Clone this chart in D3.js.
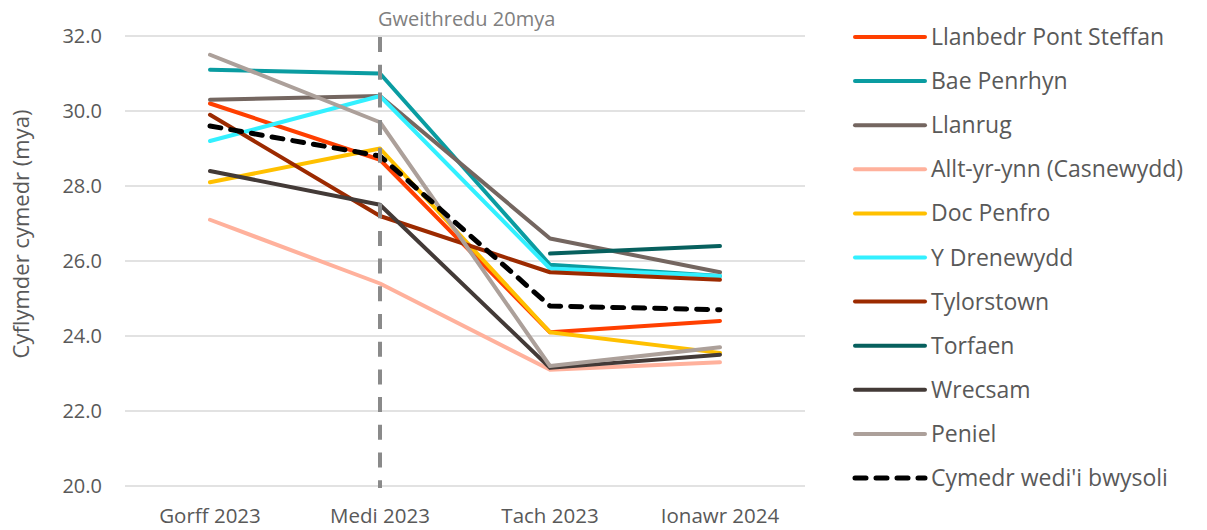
<!DOCTYPE html>
<html>
<head>
<meta charset="utf-8">
<script src="https://cdn.jsdelivr.net/npm/d3@7"></script>
<style>
	body { margin: 0; background: #fff; }
	text { font-family: "Open Sans", "Liberation Sans", sans-serif; fill: #595959; }
</style>
</head>
<body>
<div id="chart"></div>
<script>
var months = ["Gorff 2023", "Medi 2023", "Tach 2023", "Ionawr 2024"]
var yTicks = [20, 22, 24, 26, 28, 30, 32]

var names = ["Llanbedr Pont Steffan", "Bae Penrhyn", "Llanrug", "Allt-yr-ynn (Casnewydd)", "Doc Penfro",
	"Y Drenewydd", "Tylorstown", "Torfaen", "Wrecsam", "Peniel", "Cymedr wedi'i bwysoli"]

var llanbedr = [30.2, 28.7, 24.1, 24.4]
var baePenrhyn = [31.1, 31.0, 25.9, 25.6]
var llanrug = [30.3, 30.4, 26.6, 25.7]
var alltYrYnn = [27.1, 25.4, 23.1, 23.3]
var docPenfro = [28.1, 29.0, 24.1, 23.55]
var yDrenewydd = [29.2, 30.4, 25.8, 25.6]
var tylorstown = [29.9, 27.2, 25.7, 25.5]
var torfaen = [null, null, 26.2, 26.4]
var wrecsam = [28.4, 27.5, 23.15, 23.5]
var peniel = [31.5, 29.7, 23.2, 23.7]
var cymedr = [29.6, 28.8, 24.8, 24.7]

var colors = ["#ff3f00", "#0a9ca1", "#746660", "#ffb19c", "#ffc000",
	"#33f0ff", "#9c2a00", "#07605e", "#433a37", "#aca09a", "#000000"]

var series = [llanbedr, baePenrhyn, llanrug, alltYrYnn, docPenfro, yDrenewydd,
	tylorstown, torfaen, wrecsam, peniel, cymedr]

var width = 1207, height = 530
var margin = {top: 36, left: 125, right: 402, bottom: 44}

var svg = d3.select("#chart").append("svg")
	.attr("width", width)
	.attr("height", height)

var x = d3.scaleBand()
	.domain(months)
	.range([margin.left, width - margin.right])

var y = d3.scaleLinear()
	.domain([20, 32])
	.range([height - margin.bottom, margin.top])

// gridlines
svg.append("g")
	.selectAll("line")
	.data(yTicks)
	.enter().append("line")
		.attr("x1", margin.left)
		.attr("x2", width - margin.right)
		.attr("y1", d => y(d))
		.attr("y2", d => y(d))
		.attr("stroke", "#d9d9d9")
		.attr("stroke-width", 1.5)

svg.append("g")
	.selectAll("text")
	.data(yTicks)
	.enter().append("text")
		.attr("x", 102)
		.attr("y", d => y(d))
		.attr("dy", "0.35em")
		.attr("text-anchor", "end")
		.style("font-size", "20px")
		.text(d => d.toFixed(1))

svg.append("g")
	.selectAll("text")
	.data(months)
	.enter().append("text")
		.attr("x", d => x(d) + x.bandwidth() / 2)
		.attr("y", 516)
		.attr("dy", "0.35em")
		.attr("text-anchor", "middle")
		.style("font-size", "20.5px")
		.text(d => d)

svg.append("text")
	.attr("transform", "translate(21," + 234 + ") rotate(-90)")
	.attr("text-anchor", "middle")
	.attr("dy", "0.35em")
	.style("font-size", "22px")
	.text("Cyflymder cymedr (mya)")

var line = d3.line()
	.defined(d => d != null)
	.x((d, i) => x(months[i]) + x.bandwidth() / 2)
	.y(d => y(d))

svg.append("g")
	.selectAll("path")
	.data(series)
	.enter().append("path")
		.attr("fill", "none")
		.attr("stroke", (d, i) => colors[i])
		.attr("stroke-width", (d, i) => i == 10 ? 5 : 4)
		.attr("stroke-dasharray", (d, i) => i == 10 ? "11,10" : null)
		.attr("stroke-linecap", "round")
		.attr("stroke-linejoin", "round")
		.attr("d", line)

// vertical marker, drawn over the series
var markX = x("Medi 2023") + x.bandwidth() / 2
svg.append("line")
	.attr("x1", markX)
	.attr("x2", markX)
	.attr("y1", y(32) + 1)
	.attr("y2", y(20) + 2)
	.attr("stroke", "#8a8a8a")
	.attr("stroke-width", 4)
	.attr("stroke-dasharray", "15,12.7")

svg.append("text")
	.attr("x", markX - 2)
	.attr("y", 19)
	.attr("dy", "0.35em")
	.style("font-size", "20px")
	.style("fill", "#808080")
	.text("Gweithredu 20mya")

// legend
var legend = svg.append("g")
	.selectAll("g")
	.data(names)
	.enter().append("g")
		.attr("transform", (d, i) => "translate(855," + (37 + i * 44.1) + ")")

legend.append("line")
	.attr("x1", 0)
	.attr("x2", 70)
	.attr("stroke", (d, i) => colors[i])
	.attr("stroke-width", (d, i) => i == 10 ? 5 : 4)
	.attr("stroke-dasharray", (d, i) => i == 10 ? "11,10" : null)
	.attr("stroke-linecap", "round")

legend.append("text")
	.attr("x", 76)
	.attr("dy", "0.35em")
	.style("font-size", "23px")
	.text(d => d)
</script>
</body>
</html>
